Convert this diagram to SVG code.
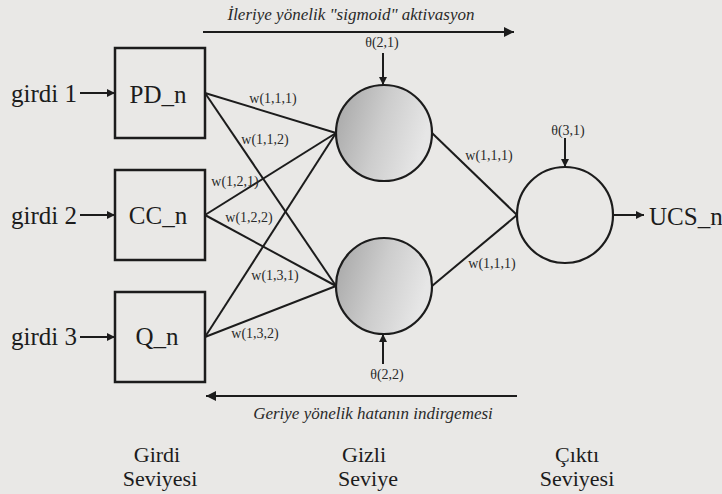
<svg xmlns="http://www.w3.org/2000/svg" width="722" height="494" viewBox="0 0 722 494">
  <style>
    .ln { stroke: #1c1c1c; stroke-width: 2; fill: none; }
    .box { stroke: #1c1c1c; stroke-width: 2.5; fill: none; }
    .node { stroke: #1c1c1c; stroke-width: 2.2; }
    .big { font-family: "Liberation Serif", "Times New Roman", serif; font-size: 25px; fill: #1c1c1c; }
    .lvl { font-family: "Liberation Serif", "Times New Roman", serif; font-size: 22px; fill: #1c1c1c; text-anchor: middle; }
    .w { font-family: "Liberation Serif", "Times New Roman", serif; font-size: 14px; fill: #2a2a2a; text-anchor: middle; }
    .it { font-family: "Liberation Serif", "Times New Roman", serif; font-size: 17px; font-style: italic; fill: #2a2a2a; text-anchor: middle; }
  </style>
  <defs>
    <marker id="ah" viewBox="0 0 10 10" refX="10" refY="5" markerWidth="10" markerHeight="8" markerUnits="userSpaceOnUse" orient="auto">
      <path d="M0,0 L10,5 L0,10 z" fill="#1c1c1c"/>
    </marker>
    <marker id="ahs" viewBox="0 0 10 10" refX="10" refY="5" markerWidth="12" markerHeight="10" markerUnits="userSpaceOnUse" orient="auto">
      <path d="M0,0 L10,5 L0,10 z" fill="#1c1c1c"/>
    </marker>
    <linearGradient id="gr" x1="0" y1="0" x2="1" y2="0.3">
      <stop offset="0" stop-color="#a4a4a4"/>
      <stop offset="0.55" stop-color="#cdcdcd"/>
      <stop offset="1" stop-color="#e6e6e6"/>
    </linearGradient>
  </defs>
  <rect width="722" height="494" fill="#e9e8e6"/>

  <g id="connectors">
    <line class="ln" x1="205" y1="93" x2="336" y2="133"/>
    <line class="ln" x1="205" y1="93" x2="336" y2="286"/>
    <line class="ln" x1="205" y1="215" x2="336" y2="133"/>
    <line class="ln" x1="205" y1="215" x2="336" y2="286"/>
    <line class="ln" x1="205" y1="337" x2="336" y2="133"/>
    <line class="ln" x1="205" y1="337" x2="336" y2="286"/>
    <line class="ln" x1="432" y1="133" x2="517" y2="215"/>
    <line class="ln" x1="432" y1="286" x2="517" y2="215"/>
    <line class="ln" x1="80" y1="93" x2="115" y2="93" marker-end="url(#ah)"/>
    <line class="ln" x1="80" y1="215" x2="115" y2="215" marker-end="url(#ah)"/>
    <line class="ln" x1="80" y1="337" x2="115" y2="337" marker-end="url(#ah)"/>
    <line class="ln" x1="613" y1="215" x2="644" y2="215" marker-end="url(#ah)"/>
    <line class="ln" x1="383" y1="53" x2="383" y2="85" marker-end="url(#ah)"/>
    <line class="ln" x1="383" y1="364" x2="383" y2="334" marker-end="url(#ah)"/>
    <line class="ln" x1="565" y1="138" x2="565" y2="167" marker-end="url(#ah)"/>
    <line class="ln" x1="203" y1="32" x2="514" y2="32" marker-end="url(#ahs)"/>
    <line class="ln" x1="517" y1="396" x2="206" y2="396" marker-end="url(#ahs)"/>
    <text class="w" x="273" y="103">w(1,1,1)</text>
    <text class="w" x="265" y="144">w(1,1,2)</text>
    <text class="w" x="235" y="186">w(1,2,1)</text>
    <text class="w" x="249" y="222">w(1,2,2)</text>
    <text class="w" x="275" y="280">w(1,3,1)</text>
    <text class="w" x="255" y="338">w(1,3,2)</text>
    <text class="w" x="489" y="160">w(1,1,1)</text>
    <text class="w" x="492" y="268">w(1,1,1)</text>
    <text class="w" x="382" y="47">θ(2,1)</text>
    <text class="w" x="387" y="379">θ(2,2)</text>
    <text class="w" x="568" y="135">θ(3,1)</text>
    <text class="it" x="351" y="20">İleriye yönelik "sigmoid" aktivasyon</text>
    <text class="it" x="373" y="419">Geriye yönelik hatanın indirgemesi</text>
  </g>

  <g id="in1">
    <text class="big" x="77" y="102" text-anchor="end">girdi 1</text>
    <rect class="box" x="115" y="48" width="90" height="90"/>
    <text class="big" x="158" y="103" text-anchor="middle">PD_n</text>
  </g>
  <g id="in2">
    <text class="big" x="77" y="224" text-anchor="end">girdi 2</text>
    <rect class="box" x="115" y="170" width="90" height="90"/>
    <text class="big" x="158" y="224" text-anchor="middle">CC_n</text>
  </g>
  <g id="in3">
    <text class="big" x="77" y="345" text-anchor="end">girdi 3</text>
    <rect class="box" x="115" y="292" width="90" height="90"/>
    <text class="big" x="157" y="345" text-anchor="middle">Q_n</text>
  </g>
  <g id="hid1">
    <circle class="node" cx="384" cy="133" r="48" fill="url(#gr)"/>
  </g>
  <g id="hid2">
    <circle class="node" cx="384" cy="286" r="48" fill="url(#gr)"/>
  </g>
  <g id="out">
    <circle class="node" cx="565" cy="215" r="48" fill="none"/>
    <text class="big" x="649" y="225">UCS_n</text>
  </g>
  <g id="levels">
    <text class="lvl" x="157" y="462">Girdi</text>
    <text class="lvl" x="160" y="486">Seviyesi</text>
    <text class="lvl" x="364" y="462">Gizli</text>
    <text class="lvl" x="368" y="486">Seviye</text>
    <text class="lvl" x="577" y="462">Çıktı</text>
    <text class="lvl" x="577" y="486">Seviyesi</text>
  </g>
</svg>
